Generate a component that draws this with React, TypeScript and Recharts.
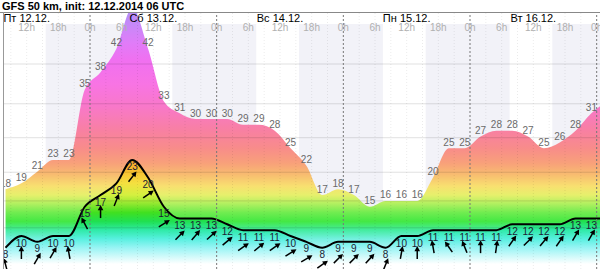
import React from 'react';
import { ComposedChart, Area, XAxis, YAxis, ReferenceArea, ReferenceLine } from 'recharts';

const title = 'GFS 50 km, init: 12.12.2014 06 UTC';

// local hours since Fri 12.12 00:00
const hours = [8, 11, 14, 17, 20, 23, 26, 29, 32, 35, 38, 41, 44, 47, 50, 53, 56, 59, 62, 65, 68, 71, 74, 77, 80, 83, 86, 89, 92, 95, 98, 101, 104, 107, 110, 113, 116, 119, 122];
const gust = [18, 19, 21, 23, 23, 35, 38, 42, 49, 42, 33, 31, 30, 30, 30, 29, 29, 28, 25, 22, 17, 18, 17, 15, 16, 16, 16, 20, 25, 25, 27, 28, 28, 27, 25, 26, 28, 31, 33];
const wind = [8, 10, 9, 10, 10, 15, 17, 19, 23, 20, 15, 13, 13, 13, 12, 11, 11, 11, 10, 9, 8, 9, 9, 9, 8, 10, 10, 11, 11, 11, 11, 11, 12, 12, 12, 12, 13, 13, 13];
const windDir = [-15, 0, 30, 30, -10, -28, 0, 22, 38, 55, 58, 45, 40, 48, 50, 55, 50, 55, 58, 60, 55, 45, 45, 42, 22, 10, 0, -10, -35, -22, 0, 8, 35, 45, 40, 35, 30, 30, 30];

const days = ['Пт 12.12.', 'Сб 13.12.', 'Вс 14.12.', 'Пн 15.12.', 'Вт 16.12.'];
const dayNoons = [12, 36, 60, 84, 108];
const hourMarks = [12, 18, 24, 30, 36, 42, 48, 54, 60, 66, 72, 78, 84, 90, 96, 102, 108, 114, 120];
const hourNames = ['12h', '18h', '0h', '6h', '12h', '18h', '0h', '6h', '12h', '18h', '0h', '6h', '12h', '18h', '0h', '6h', '12h', '18h', '0h'];
const midnights = [24, 48, 72, 96, 120];
const minorMarks = [9, 12, 15, 18, 21, 27, 30, 33, 36, 39, 42, 45, 51, 54, 57, 60, 63, 66, 69, 75, 78, 81, 84, 87, 90, 93, 99, 102, 105, 108, 111, 114, 117];
const nightFrom = [15.6, 39.6, 63.6, 87.6, 111.6];
const nightTo = [31.5, 55.5, 79.5, 103.5, 127.5];
const gridLevels = [39.4, 32.6, 26.8, 20.9, 16.0, 11.4];

const X_MIN = 7.705;
const X_MAX = 120.63;
const Y_MIN = 4.36;
const Y_MAX = 48.12;
const HEADER_TOP = 46.24;

const CHART_W = 596;
const CHART_H = 256;

const FONT = '"Liberation Sans", Arial, sans-serif';

const gustStops: [number, string][] = [
  [50, '#b48cf8'], [46, '#c888f8'], [43, '#e07cf8'], [40, '#f070f0'], [36, '#f874e4'],
  [32, '#f878c8'], [28, '#f880a2'], [25, '#f88c8a'], [22.5, '#f8a07a'], [20.5, '#f8bc70'],
  [18.5, '#f8e070'], [17, '#e6f06c'], [15.5, '#b0f060'], [14, '#70ec50'], [12.5, '#44e844'],
  [11, '#44eca0'], [9.5, '#74f0e0'], [8, '#a8f6f6'], [6.5, '#d8fcfc'], [5, '#ffffff'],
];
const windStops: [number, string][] = [
  [25, '#f49030'], [23, '#f4a028'], [21, '#f8c030'], [19, '#f4e040'], [17, '#d4f040'],
  [15.5, '#90e830'], [14, '#40e020'], [12.5, '#20e050'], [11, '#30eaa8'], [9.5, '#58f0e0'],
  [8, '#98f4f4'], [6.5, '#d0fafa'], [5.2, '#ffffff'],
];

const off = (v: number) => {
  const o = (Y_MAX - v) / (Y_MAX - Y_MIN);
  return Math.max(0, Math.min(1, o));
};

const rows = hours.map((h, i) => ({ h, gust: gust[i], wind: wind[i], dir: windDir[i] }));

const HeaderText = (props: any) => {
  const vb = props.viewBox || { x: 0, y: 0 };
  return (
    <text
      x={vb.x}
      y={(vb.y || 0) + props.dy}
      textAnchor="middle"
      fontSize={props.size}
      fill={props.color}
      fontFamily={FONT}
    >
      {props.text}
    </text>
  );
};

const GustDot = (props: any) => {
  const { cx, cy, index, payload } = props;
  if (cx == null || cy == null) return <g key={`g${index}`} />;
  return (
    <text key={`g${index}`} x={cx} y={cy - 2.5} textAnchor="middle" fontSize={10} fill="#6a6a6a" fontFamily={FONT}>
      {payload.gust}
    </text>
  );
};

const WindDot = (props: any) => {
  const { cx, cy, index, payload } = props;
  if (cx == null || cy == null) return <g key={`w${index}`} />;
  return (
    <g key={`w${index}`}>
      <text x={cx} y={cy + 10.5} textAnchor="middle" fontSize={10} fill="#1c1c34" fontFamily={FONT}>
        {payload.wind}
      </text>
      <g transform={`translate(${cx},${cy + 17}) rotate(${payload.dir})`}>
        <line x1={0} y1={6} x2={0} y2={-3} stroke="#000" strokeWidth={1.5} />
        <path d="M0,-7 L-2.8,-1.8 L2.8,-1.8 Z" fill="#000" />
      </g>
    </g>
  );
};

export default function App() {
  return (
    <div style={{ position: 'absolute', left: 0, top: 0, width: 600, height: 269, overflow: 'hidden', background: '#fff', fontFamily: FONT }}>
      <div style={{ position: 'absolute', left: 2, top: 0, fontSize: 11, fontWeight: 'bold', lineHeight: '12px', color: '#000', whiteSpace: 'nowrap' }}>
        {title}
      </div>
      <div style={{ position: 'absolute', left: 0, top: 12, width: 600, height: 1, background: '#888' }} />
      <div style={{ position: 'absolute', left: 3, top: 12, width: 1, height: 257, background: '#999' }} />
      <div style={{ position: 'absolute', left: 4, top: 13 }}>
        <ComposedChart width={CHART_W} height={CHART_H} data={rows} margin={{ top: 0, right: 0, bottom: 0, left: 0 }}>
          <defs>
            <linearGradient id="gustGrad" gradientUnits="userSpaceOnUse" x1={0} y1={0} x2={0} y2={CHART_H}>
              {gustStops.map(([v, c], i) => (
                <stop key={i} offset={off(v)} stopColor={c} />
              ))}
            </linearGradient>
            <linearGradient id="windGrad" gradientUnits="userSpaceOnUse" x1={0} y1={0} x2={0} y2={CHART_H}>
              {windStops.map(([v, c], i) => (
                <stop key={i} offset={off(v)} stopColor={c} />
              ))}
            </linearGradient>
          </defs>
          <XAxis dataKey="h" type="number" domain={[X_MIN, X_MAX]} allowDataOverflow hide />
          <YAxis type="number" domain={[Y_MIN, Y_MAX]} allowDataOverflow hide />
          {nightFrom.map((f, i) => (
            <ReferenceArea
              key={`n${i}`}
              x1={f}
              x2={nightTo[i]}
              y1={Y_MIN}
              y2={HEADER_TOP}
              ifOverflow="hidden"
              fill="#f2f2f8"
              fillOpacity={1}
              stroke="none"
            />
          ))}
          <Area
            dataKey="gust"
            type="monotone"
            stroke="none"
            fill="url(#gustGrad)"
            fillOpacity={1}
            isAnimationActive={false}
            activeDot={false}
            dot={false}
          />
          <Area
            dataKey="wind"
            type="monotone"
            stroke="#000"
            strokeWidth={2}
            fill="url(#windGrad)"
            fillOpacity={1}
            isAnimationActive={false}
            activeDot={false}
            dot={false}
          />
          {gridLevels.map((v, i) => (
            <ReferenceLine key={`gl${i}`} y={v} stroke="#000" strokeOpacity={0.12} strokeWidth={1} />
          ))}
          {minorMarks.map((m, i) => (
            <ReferenceLine key={`mm${i}`} x={m} stroke="#000" strokeOpacity={0.08} strokeDasharray="1 2" />
          ))}
          {midnights.map((m, i) => (
            <ReferenceLine key={`md${i}`} x={m} stroke="#777" strokeDasharray="2 2" />
          ))}
          {dayNoons.map((d, i) => (
            <ReferenceLine
              key={`dl${i}`}
              x={d}
              stroke="none"
              label={<HeaderText text={days[i]} dy={9} size={11} color="#000" />}
            />
          ))}
          {hourMarks.map((m, i) => (
            <ReferenceLine
              key={`hl${i}`}
              x={m}
              stroke="none"
              label={<HeaderText text={hourNames[i]} dy={17.5} size={10} color="#b0b0b0" />}
            />
          ))}
          <Area
            dataKey="gust"
            type="monotone"
            stroke="none"
            fill="none"
            isAnimationActive={false}
            activeDot={false}
            dot={GustDot}
          />
          <Area
            dataKey="wind"
            type="monotone"
            stroke="none"
            fill="none"
            isAnimationActive={false}
            activeDot={false}
            dot={WindDot}
          />
        </ComposedChart>
      </div>
    </div>
  );
}
